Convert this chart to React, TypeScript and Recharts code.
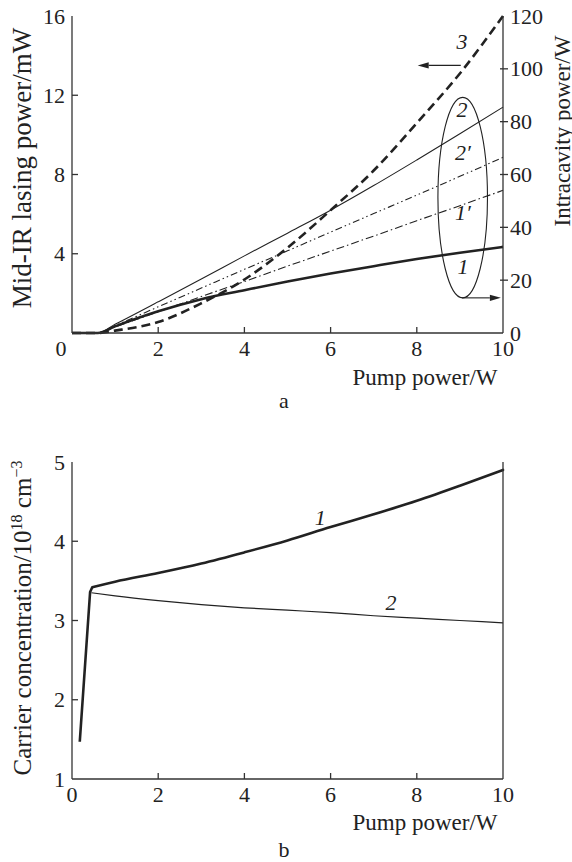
import React from 'react';
import {
  LineChart,
  Line,
  XAxis,
  YAxis,
  ReferenceArea,
  ReferenceLine,
  ReferenceDot,
} from 'recharts';

// ---- panel a: pump power (W) vs lasing / intracavity power
const pumpA = [0, 0.6, 1, 2, 3, 4, 5, 6, 7, 8, 9, 10];
const intracavity1 = [0, 0, 2.5, 8.2, 12.8, 16.2, 19.5, 22.5, 25.3, 28.0, 30.4, 32.6];
const intracavity2 = [0, 0, 3.3, 11.8, 20.4, 29.2, 37.8, 46.5, 55.8, 65.5, 75.4, 85.5];
const intracavity1p = [0, 0, 2.3, 8.0, 13.8, 19.5, 25.3, 31.0, 36.7, 42.5, 48.2, 54.0];
const intracavity2p = [0, 0, 2.8, 9.9, 17.0, 24.1, 31.1, 38.2, 45.2, 52.2, 59.3, 66.5];
const midIr3 = [0, 0, 0.12, 0.55, 1.5, 2.7, 4.3, 6.2, 8.2, 10.6, 13.1, 16.0];

// ---- panel b: carrier concentration (10^18 cm^-3)
// curve 1: steep rise below threshold, then smooth growth
const pumpB1rise = [0.18, 0.42, 0.47];
const carrier1rise = [1.47, 3.36, 3.42];
const pumpB1 = [0.47, 1, 2, 3, 4, 5, 6, 7, 8, 9, 10];
const carrier1 = [3.42, 3.49, 3.6, 3.72, 3.86, 4.01, 4.18, 4.34, 4.51, 4.7, 4.9];
const pumpB2 = [0.45, 1, 2, 3, 4, 5, 6, 7, 8, 9, 10];
const carrier2 = [3.35, 3.31, 3.25, 3.2, 3.16, 3.13, 3.1, 3.06, 3.03, 3.0, 2.97];

const xTicks = [0, 2, 4, 6, 8, 10];
const leftTicksA = [4, 8, 12, 16];
const rightTicksA = [0, 20, 40, 60, 80, 100, 120];
const leftTicksB = [1, 2, 3, 4, 5];

const FONT = '"Liberation Serif", "Times New Roman", serif';
const INK = '#222';
const AXIS = '#333';

const zip = (xs: number[], ys: number[]) => xs.map((x, i) => ({ x, y: ys[i] }));

const dataA1 = zip(pumpA, intracavity1);
const dataA2 = zip(pumpA, intracavity2);
const dataA1p = zip(pumpA, intracavity1p);
const dataA2p = zip(pumpA, intracavity2p);
const dataA3 = zip(pumpA, midIr3);
const dataB1rise = zip(pumpB1rise, carrier1rise);
const dataB1 = zip(pumpB1, carrier1);
const dataB2 = zip(pumpB2, carrier2);

const tickText = { fontFamily: FONT, fontSize: 22, fill: INK };

function makeBottomTick(firstDx: number) {
  return (props: any) => {
    const { x, y, payload } = props;
    const v = payload.value;
    const inner = v !== 0 && v !== 10;
    return (
      <g>
        {inner && <line x1={x} x2={x} y1={y} y2={y - 6} stroke={AXIS} strokeWidth={1.3} />}
        <text x={x + (v === 0 ? firstDx : 0)} y={y + 23} textAnchor="middle" {...tickText}>
          {v}
        </text>
      </g>
    );
  };
}

function makeLeftTick(lo: number, hi: number) {
  return (props: any) => {
    const { x, y, payload } = props;
    const v = payload.value;
    const inner = v !== lo && v !== hi;
    return (
      <g>
        {inner && <line x1={x} x2={x + 6} y1={y} y2={y} stroke={AXIS} strokeWidth={1.3} />}
        <text x={x - 7} y={y + 7.5} textAnchor="end" {...tickText}>
          {v}
        </text>
      </g>
    );
  };
}

const RightTick = (props: any) => {
  const { x, y, payload } = props;
  const v = payload.value;
  const inner = v !== 0 && v !== 120;
  return (
    <g>
      {inner && <line x1={x - 3} x2={x + 5} y1={y} y2={y} stroke={AXIS} strokeWidth={1.3} />}
      <text x={x + 7} y={y + 7.5} textAnchor="start" {...tickText}>
        {v}
      </text>
    </g>
  );
};

const Arrow = (p: any) => {
  const { x1, y1, x2, y2 } = p;
  const ang = Math.atan2(y2 - y1, x2 - x1);
  const L = 11;
  const W = 3.2;
  const bx = x2 - L * Math.cos(ang);
  const by = y2 - L * Math.sin(ang);
  const px = -Math.sin(ang) * W;
  const py = Math.cos(ang) * W;
  return (
    <g>
      <line x1={x1} y1={y1} x2={bx} y2={by} stroke={INK} strokeWidth={1.1} />
      <polygon points={`${x2},${y2} ${bx + px},${by + py} ${bx - px},${by - py}`} fill={INK} />
    </g>
  );
};

const Ellipse = (p: any) => (
  <ellipse
    cx={p.x + p.width / 2}
    cy={p.y + p.height / 2}
    rx={p.width / 2}
    ry={p.height / 2}
    fill="none"
    stroke={INK}
    strokeWidth={1.1}
  />
);

const curveTag = (txt: string) => (p: any) => (
  <text
    x={p.cx}
    y={p.cy + 7}
    textAnchor="middle"
    fontFamily={FONT}
    fontStyle="italic"
    fontSize={22}
    fill={INK}
  >
    {txt}
  </text>
);

// labels on curves of panel a: [text, x, right-axis y]
const tagsA: [string, number, number][] = [
  ['3', 9.05, 110],
  ['2', 9.05, 84.5],
  ['2\u2032', 9.07, 68],
  ['1\u2032', 9.07, 45.5],
  ['1', 9.07, 25],
];

const tagsB: [string, number, number][] = [
  ['1', 5.76, 4.29],
  ['2', 7.4, 3.22],
];

function PanelA() {
  return (
    <LineChart width={572} height={430} margin={{ top: 16, right: 0, bottom: 67, left: 0 }}>
      <XAxis
        xAxisId="x"
        type="number"
        dataKey="x"
        domain={[0, 10]}
        ticks={xTicks}
        interval={0}
        height={30}
        tickSize={0}
        tickMargin={0}
        tick={makeBottomTick(-11)}
        axisLine={{ stroke: AXIS, strokeWidth: 1.3 }}
        allowDuplicatedCategory={false}
      />
      <XAxis
        xAxisId="xt"
        orientation="top"
        type="number"
        domain={[0, 10]}
        height={0}
        tick={false}
        tickLine={false}
        axisLine={{ stroke: AXIS, strokeWidth: 1.3 }}
      />
      <YAxis
        yAxisId="left"
        type="number"
        domain={[0, 16]}
        ticks={leftTicksA}
        interval={0}
        width={72}
        tickSize={0}
        tickMargin={0}
        tick={makeLeftTick(0, 16)}
        axisLine={{ stroke: AXIS, strokeWidth: 1.3 }}
      />
      <YAxis
        yAxisId="right"
        orientation="right"
        type="number"
        domain={[0, 120]}
        ticks={rightTicksA}
        interval={0}
        width={69}
        tickSize={0}
        tickMargin={0}
        tick={RightTick}
        axisLine={{ stroke: AXIS, strokeWidth: 1.3 }}
      />
      <Line xAxisId="x" yAxisId="right" data={dataA1} dataKey="y" type="monotone" stroke={INK} strokeWidth={2.6} dot={false} isAnimationActive={false} />
      <Line xAxisId="x" yAxisId="right" data={dataA2} dataKey="y" type="monotone" stroke={INK} strokeWidth={1.1} dot={false} isAnimationActive={false} />
      <Line xAxisId="x" yAxisId="right" data={dataA2p} dataKey="y" type="monotone" stroke={INK} strokeWidth={1.1} strokeDasharray="7 3 1.5 3 1.5 3" dot={false} isAnimationActive={false} />
      <Line xAxisId="x" yAxisId="right" data={dataA1p} dataKey="y" type="monotone" stroke={INK} strokeWidth={1.1} strokeDasharray="8 3 1.5 3" dot={false} isAnimationActive={false} />
      <Line xAxisId="x" yAxisId="left" data={dataA3} dataKey="y" type="monotone" stroke={INK} strokeWidth={2.6} strokeDasharray="9 5" dot={false} isAnimationActive={false} />
      <ReferenceArea xAxisId="x" yAxisId="right" x1={8.49} x2={9.64} y1={13.3} y2={89.2} shape={Ellipse} />
      <ReferenceLine
        xAxisId="x"
        yAxisId="right"
        segment={[{ x: 9.05, y: 13.3 }, { x: 9.95, y: 13.3 }]}
        shape={Arrow}
      />
      <ReferenceLine
        xAxisId="x"
        yAxisId="right"
        segment={[{ x: 9.02, y: 101.3 }, { x: 8.02, y: 101.3 }]}
        shape={Arrow}
      />
      {tagsA.map(([t, x, y]) => (
        <ReferenceDot key={t} xAxisId="x" yAxisId="right" x={x} y={y} r={1} shape={curveTag(t)} />
      ))}
    </LineChart>
  );
}

function PanelB() {
  return (
    <LineChart width={572} height={432} margin={{ top: 32, right: 0, bottom: 53, left: 0 }}>
      <XAxis
        xAxisId="x"
        type="number"
        dataKey="x"
        domain={[0, 10]}
        ticks={xTicks}
        interval={0}
        height={30}
        tickSize={0}
        tickMargin={0}
        tick={makeBottomTick(0)}
        axisLine={{ stroke: AXIS, strokeWidth: 1.3 }}
        allowDuplicatedCategory={false}
      />
      <XAxis
        xAxisId="xt"
        orientation="top"
        type="number"
        domain={[0, 10]}
        height={0}
        tick={false}
        tickLine={false}
        axisLine={{ stroke: AXIS, strokeWidth: 1.3 }}
      />
      <YAxis
        yAxisId="left"
        type="number"
        domain={[1, 5]}
        ticks={leftTicksB}
        interval={0}
        width={72}
        tickSize={0}
        tickMargin={0}
        tick={makeLeftTick(1, 5)}
        axisLine={{ stroke: AXIS, strokeWidth: 1.3 }}
      />
      <YAxis
        yAxisId="rb"
        orientation="right"
        type="number"
        domain={[1, 5]}
        width={69}
        tick={false}
        tickLine={false}
        axisLine={{ stroke: AXIS, strokeWidth: 1.3 }}
      />
      <Line xAxisId="x" yAxisId="left" data={dataB2} dataKey="y" type="monotone" stroke={INK} strokeWidth={1.2} dot={false} isAnimationActive={false} />
      <Line xAxisId="x" yAxisId="left" data={dataB1rise} dataKey="y" type="linear" stroke={INK} strokeWidth={2.6} strokeLinejoin="round" dot={false} isAnimationActive={false} />
      <Line xAxisId="x" yAxisId="left" data={dataB1} dataKey="y" type="monotone" stroke={INK} strokeWidth={2.6} strokeLinecap="round" dot={false} isAnimationActive={false} />
      {tagsB.map(([t, x, y]) => (
        <ReferenceDot key={t} xAxisId="x" yAxisId="left" x={x} y={y} r={1} shape={curveTag(t)} />
      ))}
    </LineChart>
  );
}

export default function App() {
  return (
    <div style={{ position: 'absolute', left: 0, top: 0, width: 572, height: 862, background: '#fff' }}>
      <div style={{ position: 'absolute', left: 0, top: 0 }}>
        <PanelA />
      </div>
      <div style={{ position: 'absolute', left: 0, top: 430 }}>
        <PanelB />
      </div>
      <svg
        width={572}
        height={862}
        style={{ position: 'absolute', left: 0, top: 0, pointerEvents: 'none' }}
        fontFamily={FONT}
        fill={INK}
      >
        <text transform="translate(31,168) rotate(-90)" textAnchor="middle" fontSize={27}>
          Mid-IR lasing power/mW
        </text>
        <text transform="translate(570,131) rotate(-90)" textAnchor="middle" fontSize={23}>
          Intracavity power/W
        </text>
        <text x={425} y={385} textAnchor="middle" fontSize={23}>
          Pump power/W
        </text>
        <text x={284} y={408} textAnchor="middle" fontSize={22}>
          a
        </text>
        <text transform="translate(31,618) rotate(-90)" textAnchor="middle" fontSize={25}>
          Carrier concentration/10
          <tspan dy={-9} fontSize={16}>18</tspan>
          <tspan dy={9}> cm</tspan>
          <tspan dy={-9} fontSize={16}>{'\u22123'}</tspan>
        </text>
        <text x={425} y={830} textAnchor="middle" fontSize={23}>
          Pump power/W
        </text>
        <text x={284} y={857} textAnchor="middle" fontSize={22}>
          b
        </text>
      </svg>
    </div>
  );
}
